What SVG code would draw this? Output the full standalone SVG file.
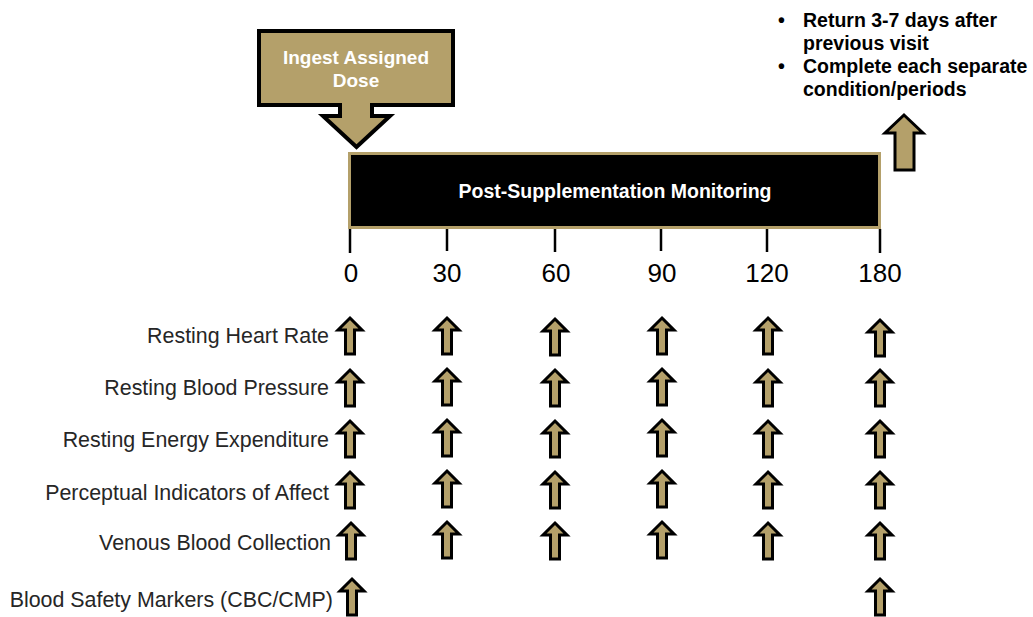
<svg xmlns="http://www.w3.org/2000/svg" xmlns:xlink="http://www.w3.org/1999/xlink" width="1033" height="617" viewBox="0 0 1033 617">
  <style>
    .gold { fill: #b4a06a; stroke: #000; stroke-width: 3; stroke-linejoin: miter; }
    .lbl { font-family: "Liberation Sans", Arial, sans-serif; font-size: 21.4px; fill: #262626; text-anchor: end; }
    .tick { font-family: "Liberation Sans", Arial, sans-serif; font-size: 26px; fill: #000; text-anchor: middle; }
    .bold { font-family: "Liberation Sans", Arial, sans-serif; font-weight: bold; }
    .tk { stroke: #000; stroke-width: 2.5; }
  </style>
  <defs>
    <path id="arr" class="gold" d="M0,0 L12,12 H4.5 V36 H-4.5 V12 H-12 Z"/>
  </defs>
  <rect width="1033" height="617" fill="#fff"/>

  <g id="ingest-dose">
    <path d="M259,31 H453 V105 H372 V116 H390 L356.5,147 L323,116 H340 V105 H259 Z" fill="#b4a06a" stroke="#000" stroke-width="4" stroke-linejoin="miter"/>
    <text class="bold" x="356" y="64" font-size="19" fill="#fff" text-anchor="middle">Ingest Assigned</text>
    <text class="bold" x="356" y="87" font-size="19" fill="#fff" text-anchor="middle">Dose</text>
  </g>

  <g id="monitoring-bar">
    <rect x="349.5" y="153.5" width="530" height="74" fill="#000" stroke="#b4a06a" stroke-width="3"/>
    <text class="bold" x="615" y="198" font-size="19.5" fill="#fff" text-anchor="middle">Post-Supplementation Monitoring</text>
  </g>

  <g id="return-note">
    <text class="bold" font-size="19.5" fill="#000">
      <tspan x="778" y="27">•</tspan><tspan x="803" y="27">Return 3-7 days after</tspan>
      <tspan x="803" y="50">previous visit</tspan>
      <tspan x="778" y="73">•</tspan><tspan x="803" y="73">Complete each separate</tspan>
      <tspan x="803" y="96">condition/periods</tspan>
    </text>
    <path class="gold" d="M904,115 L923,133 H914 V170 H895 V133 H885 Z" stroke-width="3.5"/>
  </g>

  <g id="connectors">
    <line class="tk" x1="350" y1="229" x2="350" y2="253"/>
    <line class="tk" x1="447" y1="229" x2="447" y2="251"/>
    <line class="tk" x1="555" y1="229" x2="555" y2="252"/>
    <line class="tk" x1="661" y1="229" x2="661" y2="251"/>
    <line class="tk" x1="767" y1="229" x2="767" y2="252"/>
    <line class="tk" x1="880" y1="229" x2="880" y2="253"/>
  </g>

  <g id="time-labels">
    <text class="tick" x="351" y="282">0</text>
    <text class="tick" x="447" y="282">30</text>
    <text class="tick" x="556" y="282">60</text>
    <text class="tick" x="662" y="282">90</text>
    <text class="tick" x="767" y="282">120</text>
    <text class="tick" x="880" y="282">180</text>
  </g>

  <g id="row-heart-rate">
    <text class="lbl" x="329" y="343">Resting Heart Rate</text>
    <use href="#arr" x="350" y="318"/><use href="#arr" x="447" y="318"/><use href="#arr" x="555" y="319"/>
    <use href="#arr" x="662" y="318"/><use href="#arr" x="768" y="318"/><use href="#arr" x="880" y="320"/>
  </g>
  <g id="row-blood-pressure">
    <text class="lbl" x="329" y="395">Resting Blood Pressure</text>
    <use href="#arr" x="350" y="370"/><use href="#arr" x="447" y="369"/><use href="#arr" x="555" y="370"/>
    <use href="#arr" x="662" y="369"/><use href="#arr" x="768" y="370"/><use href="#arr" x="880" y="370"/>
  </g>
  <g id="row-energy">
    <text class="lbl" x="329" y="447">Resting Energy Expenditure</text>
    <use href="#arr" x="350" y="421"/><use href="#arr" x="447" y="420"/><use href="#arr" x="555" y="421"/>
    <use href="#arr" x="662" y="420"/><use href="#arr" x="768" y="421"/><use href="#arr" x="880" y="421"/>
  </g>
  <g id="row-affect">
    <text class="lbl" x="329" y="500">Perceptual Indicators of Affect</text>
    <use href="#arr" x="350" y="472"/><use href="#arr" x="447" y="471"/><use href="#arr" x="555" y="472"/>
    <use href="#arr" x="662" y="471"/><use href="#arr" x="768" y="472"/><use href="#arr" x="880" y="472"/>
  </g>
  <g id="row-venous">
    <text class="lbl" x="331" y="550">Venous Blood Collection</text>
    <use href="#arr" x="351" y="523"/><use href="#arr" x="447" y="522"/><use href="#arr" x="555" y="523"/>
    <use href="#arr" x="662" y="522"/><use href="#arr" x="768" y="523"/><use href="#arr" x="880" y="523"/>
  </g>
  <g id="row-safety">
    <text class="lbl" x="333" y="607">Blood Safety Markers (CBC/CMP)</text>
    <use href="#arr" x="352" y="579"/><use href="#arr" x="880" y="579"/>
  </g>
</svg>
